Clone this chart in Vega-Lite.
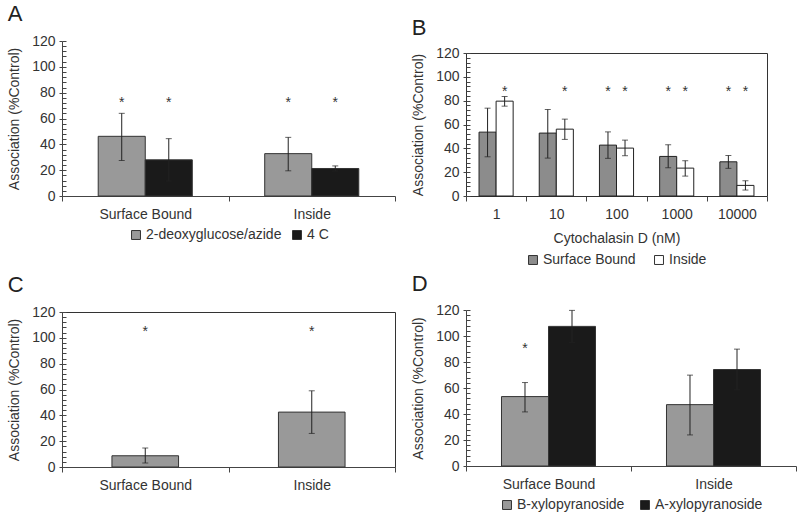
{
  "$schema": "https://vega.github.io/schema/vega-lite/v6.json",
  "background": "white",
  "padding": {"left": 7, "top": 3, "right": 4, "bottom": 4},
  "config": {
    "font": "Liberation Sans",
    "axis": {"labelFont": "Liberation Sans", "labelFontSize": 14, "titleFont": "Liberation Sans", "titleFontSize": 14, "titleFontWeight": "normal", "labelColor": "#333", "titleColor": "#333", "domainColor": "#444", "tickColor": "#444", "grid": false},
    "legend": {"labelFont": "Liberation Sans", "labelFontSize": 14, "labelColor": "#333", "symbolType": "square", "symbolSize": 80, "symbolStrokeColor": "#333", "symbolStrokeWidth": 1, "labelOffset": 3, "layout": {"bottom": {"anchor": "middle"}}},
    "title": {"font": "Liberation Sans", "fontSize": 22, "fontWeight": "normal", "anchor": "start", "frame": "bounds", "color": "#222"},
    "view": {"stroke": null}
  },
  "resolve": {"scale": {"x": "independent", "y": "independent", "color": "independent", "xOffset": "independent"}, "legend": {"color": "independent"}},
  "spacing": 15,
  "hconcat": [
    {
      "spacing": 31,
      "resolve": {"scale": {"x": "independent", "y": "independent", "color": "independent", "xOffset": "independent"}, "legend": {"color": "independent"}},
      "vconcat": [
        {
          "title": {"text": "A", "offset": 8},
          "width": 333, "height": 155,
          "resolve": {"axis": {"y": "independent"}},
          "data": {"values": [
            {"cat": "Surface Bound", "grp": "2-deoxyglucose/azide", "v": 46.2, "lo": 27.5, "hi": 64, "star": 75},
            {"cat": "Surface Bound", "grp": "4 C", "v": 28, "lo": 11.6, "hi": 44.4, "star": 75},
            {"cat": "Inside", "grp": "2-deoxyglucose/azide", "v": 32.8, "lo": 19.5, "hi": 45.4, "star": 75},
            {"cat": "Inside", "grp": "4 C", "v": 21.3, "lo": 19.3, "hi": 23.3, "star": 75}
          ]},
          "encoding": {
            "x": {"field": "cat", "type": "nominal", "sort": ["Surface Bound", "Inside"], "scale": {"paddingInner": 0, "paddingOuter": 0}, "axis": {"title": null, "labelAngle": 0, "tickBand": "extent", "tickSize": 5, "labelPadding": 6}},
            "xOffset": {"field": "grp", "type": "nominal", "scale": {"domain": ["2-deoxyglucose/azide", "4 C"], "paddingInner": 0, "paddingOuter": 0.77}}
          },
          "layer": [
            {"mark": {"type": "bar", "stroke": "#333", "strokeWidth": 1},
             "encoding": {
               "y": {"field": "v", "type": "quantitative", "scale": {"domain": [0, 120], "nice": false}, "axis": {"orient": "left", "title": "Association (%Control)", "values": [0, 20, 40, 60, 80, 100, 120], "tickSize": 3, "labelPadding": 4, "titlePadding": 10}},
               "color": {"field": "grp", "type": "nominal", "scale": {"domain": ["2-deoxyglucose/azide", "4 C"], "range": ["#999999", "#1a1a1a"]}, "legend": {"title": null, "orient": "bottom", "direction": "horizontal", "columnPadding": 8, "offset": 7}}
             }},
            {"mark": {"type": "rule", "color": "#222", "strokeWidth": 1}, "encoding": {"y": {"field": "lo", "type": "quantitative", "axis": {"orient": "left", "title": null, "labels": false, "domain": false, "tickSize": 4, "offset": -4, "values": [0,4,8,12,16,20,24,28,32,36,40,44,48,52,56,60,64,68,72,76,80,84,88,92,96,100,104,108,112,116,120]}}, "y2": {"field": "hi"}}},
            {"mark": {"type": "tick", "color": "#222", "thickness": 1, "size": 6}, "encoding": {"y": {"field": "lo", "type": "quantitative", "axis": null}}},
            {"mark": {"type": "tick", "color": "#222", "thickness": 1, "size": 6}, "encoding": {"y": {"field": "hi", "type": "quantitative", "axis": null}}},
            {"mark": {"type": "text", "text": "*", "fontSize": 14, "color": "#333", "baseline": "alphabetic", "dy": 8}, "encoding": {"y": {"field": "star", "type": "quantitative", "axis": null}}}
          ]
        },
        {
          "title": {"text": "C", "offset": 8},
          "width": 333, "height": 155,
          "view": {"stroke": "#333", "strokeWidth": 1},
          "resolve": {"axis": {"y": "independent"}},
          "data": {"values": [
            {"cat": "Surface Bound", "v": 8.7, "lo": 3.1, "hi": 14.7, "star": 108},
            {"cat": "Inside", "v": 42.5, "lo": 26, "hi": 59, "star": 108}
          ]},
          "encoding": {
            "x": {"field": "cat", "type": "nominal", "sort": ["Surface Bound", "Inside"], "scale": {"paddingInner": 0, "paddingOuter": 0}, "axis": {"title": null, "labelAngle": 0, "tickBand": "extent", "tickSize": 5, "labelPadding": 6}}
          },
          "layer": [
            {"mark": {"type": "bar", "stroke": "#333", "strokeWidth": 1, "color": "#999999", "width": {"band": 0.4}},
             "encoding": {
               "y": {"field": "v", "type": "quantitative", "scale": {"domain": [0, 120], "nice": false}, "axis": {"orient": "left", "title": "Association (%Control)", "values": [0, 20, 40, 60, 80, 100, 120], "tickSize": 3, "labelPadding": 4, "titlePadding": 10}}
             }},
            {"mark": {"type": "rule", "color": "#222", "strokeWidth": 1}, "encoding": {"y": {"field": "lo", "type": "quantitative", "axis": {"orient": "left", "title": null, "labels": false, "domain": false, "tickSize": 4, "offset": -4, "values": [0,4,8,12,16,20,24,28,32,36,40,44,48,52,56,60,64,68,72,76,80,84,88,92,96,100,104,108,112,116,120]}}, "y2": {"field": "hi"}}},
            {"mark": {"type": "tick", "color": "#222", "thickness": 1, "size": 6}, "encoding": {"y": {"field": "lo", "type": "quantitative", "axis": null}}},
            {"mark": {"type": "tick", "color": "#222", "thickness": 1, "size": 6}, "encoding": {"y": {"field": "hi", "type": "quantitative", "axis": null}}},
            {"mark": {"type": "text", "text": "*", "fontSize": 14, "color": "#333", "baseline": "alphabetic", "dy": 8}, "encoding": {"y": {"field": "star", "type": "quantitative", "axis": null}}}
          ]
        }
      ]
    },
    {
      "spacing": 6,
      "resolve": {"scale": {"x": "independent", "y": "independent", "color": "independent", "xOffset": "independent"}, "legend": {"color": "independent"}},
      "vconcat": [
        {
          "title": {"text": "B", "offset": 1},
          "width": 301, "height": 155,
          "resolve": {"axis": {"y": "independent", "x": "independent"}},
          "data": {"values": [
            {"conc": "1", "grp": "Surface Bound", "v": 53.6, "lo": 32.9, "hi": 73.7, "star": null},
            {"conc": "1", "grp": "Inside", "v": 79.6, "lo": 75.4, "hi": 83.5, "star": 90.7},
            {"conc": "10", "grp": "Surface Bound", "v": 52.8, "lo": 31.8, "hi": 72.6, "star": null},
            {"conc": "10", "grp": "Inside", "v": 56.1, "lo": 47.5, "hi": 64.5, "star": 90.7},
            {"conc": "100", "grp": "Surface Bound", "v": 42.7, "lo": 31.6, "hi": 53.8, "star": 90.7},
            {"conc": "100", "grp": "Inside", "v": 40.2, "lo": 33.8, "hi": 46.9, "star": 90.7},
            {"conc": "1000", "grp": "Surface Bound", "v": 33.2, "lo": 23.7, "hi": 43, "star": 90.7},
            {"conc": "1000", "grp": "Inside", "v": 23.4, "lo": 16.7, "hi": 29.6, "star": 90.7},
            {"conc": "10000", "grp": "Surface Bound", "v": 28.7, "lo": 23.2, "hi": 34, "star": 90.7},
            {"conc": "10000", "grp": "Inside", "v": 8.9, "lo": 5, "hi": 12.8, "star": 90.7}
          ]},
          "encoding": {
            "xOffset": {"field": "grp", "type": "nominal", "scale": {"domain": ["Surface Bound", "Inside"], "paddingInner": 0, "paddingOuter": 0.765}}
          },
          "layer": [
            {"mark": {"type": "bar", "stroke": "#222", "strokeWidth": 1},
             "encoding": {
               "x": {"field": "conc", "type": "nominal", "sort": ["1", "10", "100", "1000", "10000"], "scale": {"paddingInner": 0, "paddingOuter": 0}, "axis": {"orient": "bottom", "title": "Cytochalasin D (nM)", "labelAngle": 0, "tickBand": "extent", "tickSize": 5, "labelPadding": 6, "titlePadding": 10, "domainColor": "#333"}},
               "y": {"field": "v", "type": "quantitative", "scale": {"domain": [0, 120], "nice": false, "range": [155, 12]}, "axis": {"orient": "left", "title": "Association (%Control)", "values": [0, 20, 40, 60, 80, 100, 120], "tickSize": 3, "labelPadding": 4, "titlePadding": 10, "domainColor": "#333"}},
               "color": {"field": "grp", "type": "nominal", "scale": {"domain": ["Surface Bound", "Inside"], "range": ["#8c8c8c", "#ffffff"]}, "legend": {"title": null, "orient": "bottom", "direction": "horizontal", "columnPadding": 16, "offset": 8}}
             }},
            {"mark": {"type": "rule", "color": "#222", "strokeWidth": 1},
             "encoding": {
               "x": {"field": "conc", "type": "nominal", "sort": ["1", "10", "100", "1000", "10000"], "axis": {"orient": "top", "title": null, "labels": false, "ticks": false, "domain": true, "domainColor": "#333", "offset": -12}},
               "y": {"field": "lo", "type": "quantitative", "axis": {"orient": "left", "title": null, "labels": false, "domain": false, "tickSize": 4, "offset": -4, "values": [0,4,8,12,16,20,24,28,32,36,40,44,48,52,56,60,64,68,72,76,80,84,88,92,96,100,104,108,112,116,120]}},
               "y2": {"field": "hi"}}},
            {"mark": {"type": "tick", "color": "#222", "thickness": 1, "size": 6},
             "encoding": {
               "x": {"field": "conc", "type": "nominal", "sort": ["1", "10", "100", "1000", "10000"], "axis": null},
               "y": {"field": "lo", "type": "quantitative", "axis": {"orient": "right", "title": null, "labels": false, "ticks": false, "domain": true, "domainColor": "#333"}}}},
            {"mark": {"type": "tick", "color": "#222", "thickness": 1, "size": 6},
             "encoding": {
               "x": {"field": "conc", "type": "nominal", "sort": ["1", "10", "100", "1000", "10000"], "axis": null},
               "y": {"field": "hi", "type": "quantitative", "axis": null}}},
            {"transform": [{"filter": "datum.star != null"}], "mark": {"type": "text", "text": "*", "fontSize": 14, "color": "#333", "baseline": "alphabetic", "dy": 8},
             "encoding": {
               "x": {"field": "conc", "type": "nominal", "sort": ["1", "10", "100", "1000", "10000"], "axis": null},
               "y": {"field": "star", "type": "quantitative", "axis": null}}}
          ]
        },
        {
          "title": {"text": "D", "offset": 7},
          "width": 330, "height": 156,
          "resolve": {"axis": {"y": "independent"}},
          "data": {"values": [
            {"cat": "Surface Bound", "grp": "B-xylopyranoside", "v": 53.4, "lo": 41.6, "hi": 64.2, "star": 93},
            {"cat": "Surface Bound", "grp": "A-xylopyranoside", "v": 107.4, "lo": 95.1, "hi": 119.7, "star": null},
            {"cat": "Inside", "grp": "B-xylopyranoside", "v": 47.2, "lo": 23.9, "hi": 69.9, "star": null},
            {"cat": "Inside", "grp": "A-xylopyranoside", "v": 74.2, "lo": 58.5, "hi": 89.9, "star": null}
          ]},
          "encoding": {
            "x": {"field": "cat", "type": "nominal", "sort": ["Surface Bound", "Inside"], "scale": {"paddingInner": 0, "paddingOuter": 0}, "axis": {"title": null, "labelAngle": 0, "tickBand": "extent", "tickSize": 5, "labelPadding": 6}},
            "xOffset": {"field": "grp", "type": "nominal", "scale": {"domain": ["B-xylopyranoside", "A-xylopyranoside"], "paddingInner": 0, "paddingOuter": 0.755}}
          },
          "layer": [
            {"mark": {"type": "bar", "stroke": "#333", "strokeWidth": 1},
             "encoding": {
               "y": {"field": "v", "type": "quantitative", "scale": {"domain": [0, 120], "nice": false}, "axis": {"orient": "left", "title": "Association (%Control)", "values": [0, 20, 40, 60, 80, 100, 120], "tickSize": 3, "labelPadding": 4, "titlePadding": 10}},
               "color": {"field": "grp", "type": "nominal", "scale": {"domain": ["B-xylopyranoside", "A-xylopyranoside"], "range": ["#999999", "#1a1a1a"]}, "legend": {"title": null, "orient": "bottom", "direction": "horizontal", "columnPadding": 13, "offset": 7}}
             }},
            {"mark": {"type": "rule", "color": "#222", "strokeWidth": 1}, "encoding": {"y": {"field": "lo", "type": "quantitative", "axis": {"orient": "left", "title": null, "labels": false, "domain": false, "tickSize": 4, "offset": -4, "values": [0,4,8,12,16,20,24,28,32,36,40,44,48,52,56,60,64,68,72,76,80,84,88,92,96,100,104,108,112,116,120]}}, "y2": {"field": "hi"}}},
            {"mark": {"type": "tick", "color": "#222", "thickness": 1, "size": 6}, "encoding": {"y": {"field": "lo", "type": "quantitative", "axis": null}}},
            {"mark": {"type": "tick", "color": "#222", "thickness": 1, "size": 6}, "encoding": {"y": {"field": "hi", "type": "quantitative", "axis": null}}},
            {"transform": [{"filter": "datum.star != null"}], "mark": {"type": "text", "text": "*", "fontSize": 14, "color": "#333", "baseline": "alphabetic", "dy": 8}, "encoding": {"y": {"field": "star", "type": "quantitative", "axis": null}}}
          ]
        }
      ]
    }
  ]
}
